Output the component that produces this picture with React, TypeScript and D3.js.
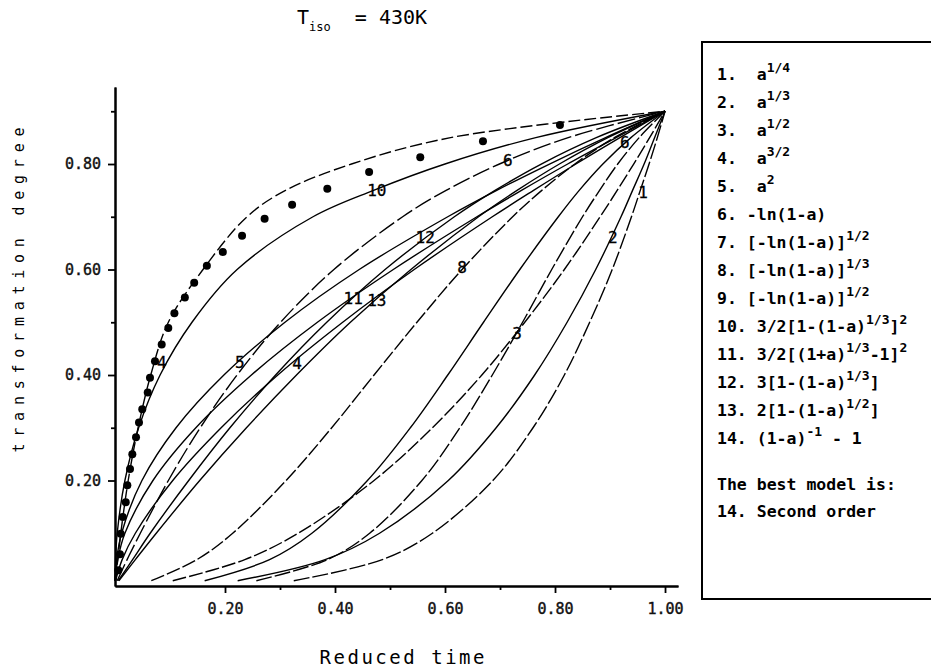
import React, { useRef, useEffect } from "react";
import * as d3 from "d3";

// transformation degree levels at which each model curve was read
const aLevels = [0.01, 0.05, 0.1, 0.2, 0.3, 0.4, 0.5, 0.6, 0.7, 0.75, 0.8, 0.85, 0.9];

// reduced time of each model curve at those levels
const model1 = [0.325, 0.486, 0.577, 0.687, 0.76, 0.817, 0.863, 0.904, 0.939, 0.955, 0.971, 0.986, 1];
const model2 = [0.223, 0.382, 0.481, 0.606, 0.693, 0.763, 0.822, 0.874, 0.92, 0.941, 0.962, 0.981, 1];
const model3 = [0.105, 0.236, 0.333, 0.471, 0.577, 0.667, 0.745, 0.817, 0.882, 0.913, 0.943, 0.972, 1];
const model4 = [0.001, 0.013, 0.037, 0.105, 0.193, 0.296, 0.414, 0.544, 0.686, 0.761, 0.838, 0.918, 1];
const model5 = [0.0001, 0.003, 0.012, 0.049, 0.111, 0.198, 0.309, 0.444, 0.605, 0.694, 0.79, 0.892, 1];
const model6 = [0.004, 0.022, 0.046, 0.097, 0.155, 0.222, 0.301, 0.398, 0.523, 0.602, 0.699, 0.824, 1];
const model7 = [0.066, 0.149, 0.214, 0.311, 0.394, 0.471, 0.549, 0.631, 0.723, 0.776, 0.836, 0.908, 1];
const model8 = [0.163, 0.281, 0.358, 0.459, 0.537, 0.605, 0.67, 0.736, 0.806, 0.844, 0.887, 0.938, 1];
const model9 = [0.257, 0.386, 0.463, 0.558, 0.627, 0.686, 0.741, 0.794, 0.85, 0.881, 0.914, 0.953, 1];
const model10 = [0.00004, 0.001, 0.004, 0.018, 0.043, 0.082, 0.14, 0.222, 0.36, 0.47, 0.6, 0.765, 1];
const model11 = [0.0002, 0.005, 0.018, 0.069, 0.147, 0.248, 0.368, 0.506, 0.658, 0.739, 0.823, 0.911, 1];
const model12 = [0.006, 0.032, 0.064, 0.134, 0.209, 0.292, 0.385, 0.491, 0.617, 0.691, 0.775, 0.875, 1];
const model13 = [0.007, 0.037, 0.075, 0.154, 0.239, 0.33, 0.428, 0.538, 0.661, 0.731, 0.808, 0.896, 1];
const model14 = [0.001, 0.005, 0.0105, 0.024, 0.042, 0.065, 0.097, 0.16, 0.24, 0.31, 0.43, 0.61, 1];
const models = [model1, model2, model3, model4, model5, model6, model7,
  model8, model9, model10, model11, model12, model13, model14];
const modelDash = ["16 3", "", "14 3", "", "", "18 4", "14 3", "", "16 3", "", "", "", "", "12 4"];

// experimental points
const expTime = [0.006, 0.009, 0.0104, 0.014, 0.0195, 0.0224, 0.0273, 0.0315, 0.0382, 0.0436,
  0.0496, 0.0595, 0.0636, 0.0727, 0.0849, 0.0969, 0.108, 0.127, 0.144, 0.167, 0.196,
  0.231, 0.272, 0.322, 0.386, 0.462, 0.555, 0.669, 0.809];
const expDegree = [0.03, 0.06, 0.099, 0.131, 0.159, 0.191, 0.222, 0.25, 0.282, 0.31,
  0.335, 0.367, 0.395, 0.426, 0.458, 0.489, 0.517, 0.547, 0.575, 0.607, 0.633,
  0.664, 0.696, 0.723, 0.753, 0.785, 0.813, 0.843, 0.874];

// numbers written along the curves
const tagText = ["10", "6", "6", "1", "2", "12", "8", "11", "13", "5", "4", "4", "3"];
const tagTime = [0.476, 0.714, 0.927, 0.96, 0.905, 0.564, 0.631, 0.433, 0.476, 0.227, 0.331, 0.085, 0.731];
const tagDegree = [0.751, 0.808, 0.841, 0.746, 0.662, 0.662, 0.605, 0.546, 0.543, 0.425, 0.423, 0.425, 0.48];

const xMinor = [0.3, 0.5, 0.7, 0.9];
const xMajor = [0.2, 0.4, 0.6, 0.8, 1.0];
const yMinor = [0.3, 0.5, 0.7, 0.9];
const yMajor = [0.2, 0.4, 0.6, 0.8];

const legendLines = [
  "1.  a^{1/4}",
  "2.  a^{1/3}",
  "3.  a^{1/2}",
  "4.  a^{3/2}",
  "5.  a^{2}",
  "6. -ln(1-a)",
  "7. [-ln(1-a)]^{1/2}",
  "8. [-ln(1-a)]^{1/3}",
  "9. [-ln(1-a)]^{1/2}",
  "10. 3/2[1-(1-a)^{1/3}]^{2}",
  "11. 3/2[(1+a)^{1/3}-1]^{2}",
  "12. 3[1-(1-a)^{1/3}]",
  "13. 2[1-(1-a)^{1/2}]",
  "14. (1-a)^{-1} - 1",
];
const verdict = ["The best model is:", "14. Second order"];

const mono = "'DejaVu Sans Mono', monospace";

const split = (s: string) => {
  const out: { t: string; sup: boolean }[] = [];
  const re = /\^\{([^}]*)\}/g;
  let last = 0;
  let m: RegExpExecArray | null;
  while ((m = re.exec(s))) {
    if (m.index > last) out.push({ t: s.slice(last, m.index), sup: false });
    out.push({ t: m[1], sup: true });
    last = m.index + m[0].length;
  }
  if (last < s.length) out.push({ t: s.slice(last), sup: false });
  return out;
};

const App = () => {
  const svgRef = useRef<SVGSVGElement>(null);

  useEffect(() => {
    const svg = d3.select(svgRef.current);
    svg.selectAll("*").remove();

    const x = d3.scaleLinear().domain([0, 1.0236]).range([115, 678]);
    const y = d3.scaleLinear().domain([0, 0.946]).range([586, 87]);

    // axes
    const gx = svg.append("g").attr("transform", "translate(0,586)");
    gx.call(d3.axisBottom(x).tickValues(xMinor).tickSize(4).tickSizeOuter(0).tickFormat(() => ""));
    gx.append("g").call(
      d3.axisBottom(x).tickValues(xMajor).tickSize(7).tickSizeOuter(0).tickPadding(10)
        .tickFormat((d) => d3.format(".2f")(d as number))
    );
    const gy = svg.append("g").attr("transform", "translate(115,0)");
    gy.call(d3.axisLeft(y).tickValues(yMinor).tickSize(4).tickSizeOuter(0).tickFormat(() => ""));
    gy.append("g").call(
      d3.axisLeft(y).tickValues(yMajor).tickSize(7).tickSizeOuter(0).tickPadding(7)
        .tickFormat((d) => d3.format(".2f")(d as number))
    );
    svg.selectAll("g").attr("font-family", null).attr("font-size", null);
    svg.selectAll(".domain").attr("stroke", "#000").attr("stroke-width", 2);
    svg.selectAll(".tick line").attr("stroke", "#000").attr("stroke-width", 1.8);
    svg.selectAll(".tick text")
      .attr("font-family", mono)
      .attr("font-size", 15)
      .attr("fill", "#111")
      .attr("stroke", "#111")
      .attr("stroke-width", 0.4);

    // model curves
    const line = d3.line<number>()
      .x((d) => x(d))
      .y((_, i) => y(aLevels[i]))
      .curve(d3.curveCatmullRom.alpha(0.5));
    models.forEach((m, i) => {
      svg.append("path")
        .attr("d", line(m))
        .attr("fill", "none")
        .attr("stroke", "#000")
        .attr("stroke-width", 1.4)
        .attr("stroke-dasharray", modelDash[i] || null);
    });

    // experimental points
    svg.append("g")
      .selectAll("circle")
      .data(expTime)
      .enter()
      .append("circle")
      .attr("cx", (d) => x(d))
      .attr("cy", (_, i) => y(expDegree[i]))
      .attr("r", 4)
      .attr("fill", "#000");

    // curve numbers
    svg.append("g")
      .selectAll("text")
      .data(tagText)
      .enter()
      .append("text")
      .attr("x", (_, i) => x(tagTime[i]))
      .attr("y", (_, i) => y(tagDegree[i]) + 6)
      .attr("text-anchor", "middle")
      .attr("font-family", mono)
      .attr("font-size", 16)
      .attr("stroke", "#000")
      .attr("stroke-width", 0.3)
      .text((d) => d);

    // title
    const title = svg.append("text")
      .attr("x", 297)
      .attr("y", 24)
      .attr("font-family", mono)
      .attr("font-size", 20)
      .style("white-space", "pre");
    title.append("tspan").text("T");
    title.append("tspan").attr("font-size", 12).attr("dy", 7).text("iso");
    title.append("tspan").attr("dy", -7).text("  = 430K");

    // axis titles
    svg.append("text")
      .attr("x", 402)
      .attr("y", 664)
      .attr("text-anchor", "middle")
      .attr("font-family", mono)
      .attr("font-size", 19)
      .attr("textLength", 165)
      .attr("lengthAdjust", "spacing")
      .text("Reduced time");
    svg.append("text")
      .attr("transform", "translate(24,290) rotate(-90)")
      .attr("text-anchor", "middle")
      .attr("font-family", mono)
      .attr("font-size", 15)
      .attr("textLength", 325)
      .attr("lengthAdjust", "spacing")
      .text("transformation degree");

    // legend box
    svg.append("rect")
      .attr("x", 702)
      .attr("y", 42)
      .attr("width", 260)
      .attr("height", 557)
      .attr("fill", "none")
      .attr("stroke", "#000")
      .attr("stroke-width", 2);

    legendLines.forEach((s, i) => {
      const t = svg.append("text")
        .attr("x", 717)
        .attr("y", 80 + i * 28)
        .attr("font-family", mono)
        .attr("font-size", 16.5)
        .attr("font-weight", "bold")
        .style("white-space", "pre");
      let up = false;
      split(s).forEach((p) => {
        const ts = t.append("tspan").text(p.t);
        if (p.sup && !up) { ts.attr("dy", -8).attr("font-size", 13); up = true; }
        else if (p.sup) ts.attr("font-size", 13);
        else if (up) { ts.attr("dy", 8); up = false; }
      });
    });
    verdict.forEach((s, i) => {
      svg.append("text")
        .attr("x", 717)
        .attr("y", 490 + i * 27)
        .attr("font-family", mono)
        .attr("font-size", 16.5)
        .attr("font-weight", "bold")
        .style("white-space", "pre")
        .text(s);
    });
  }, []);

  return <svg ref={svgRef} width={931} height={669} style={{ display: "block", position: "absolute", left: 0, top: 0, background: "#fff" }} />;
};

export default App;
